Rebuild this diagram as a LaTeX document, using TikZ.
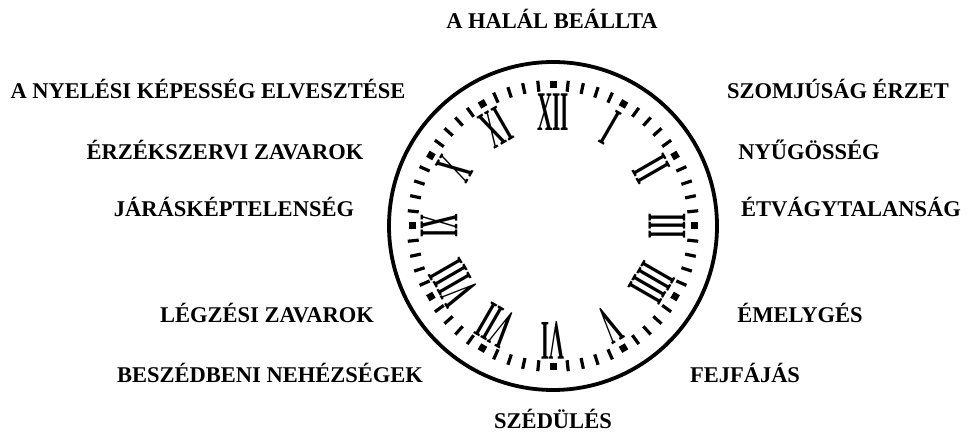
\documentclass[tikz,border=0pt]{standalone}
\usepackage{fontspec}
\usepackage{graphicx}
\setmainfont{Liberation Serif}
\usetikzlibrary{calc}
\begin{document}
\begin{tikzpicture}[x=1pt,y=1pt,
  lbl/.style={font=\fontsize{22.5}{27}\selectfont\bfseries, inner sep=0pt, anchor=base},
  numl/.style={font=\fontsize{56}{60}\selectfont\bfseries, inner sep=0pt, anchor=center},
  hourdot/.style={fill=black, minimum size=7pt, inner sep=0pt},
  mintick/.style={line width=3.2pt}]
\useasboundingbox (0,0) rectangle (977,436);
\coordinate (C) at (553,210);
% outer ring
\draw[line width=3.8pt] (C) circle (164);
% minute ticks and hour dots
\foreach \m in {0,...,59}{
  \pgfmathtruncatemacro\rr{mod(\m,5)}
  \ifnum\rr=0
    \node[hourdot, rotate=-6*\m] (h\m) at ($(C)+(90-6*\m:141)$) {};
  \else
    \coordinate (ti\m) at ($(C)+(90-6*\m:135)$);
    \coordinate (to\m) at ($(C)+(90-6*\m:146)$);
    \draw[mintick] (ti\m) -- (to\m);
  \fi
}
% numerals
\foreach \h/\t in {1/I,2/II,3/III,4/IIII,5/V,6/VI,7/VII,8/VIII,9/IX,10/X,11/XI,12/XII}{
  \node[numl, rotate=-30*\h] (n\h) at ($(C)+(90-30*\h:114)$) {\scalebox{0.38}[1]{\t}};
}
% labels (baselines)
\node[lbl] (top) at (552,436-29) {A HALÁL BEÁLLTA};
\node[lbl] (l1) at (208,436-98.5) {A NYELÉSI KÉPESSÉG ELVESZTÉSE};
\node[lbl] (l2) at (225,436-160) {ÉRZÉKSZERVI ZAVAROK};
\node[lbl] (l3) at (234,436-217) {JÁRÁSKÉPTELENSÉG};
\node[lbl] (l4) at (267,436-323) {LÉGZÉSI ZAVAROK};
\node[lbl] (l5) at (270,436-383) {BESZÉDBENI NEHÉZSÉGEK};
\node[lbl] (bot) at (553,436-429) {SZÉDÜLÉS};
\node[lbl] (r1) at (838,436-98.5) {SZOMJÚSÁG ÉRZET};
\node[lbl] (r2) at (809,436-160) {NYŰGÖSSÉG};
\node[lbl] (r3) at (851,436-217) {ÉTVÁGYTALANSÁG};
\node[lbl] (r4) at (800,436-323) {ÉMELYGÉS};
\node[lbl] (r5) at (745,436-383) {FEJFÁJÁS};
\end{tikzpicture}
\end{document}
